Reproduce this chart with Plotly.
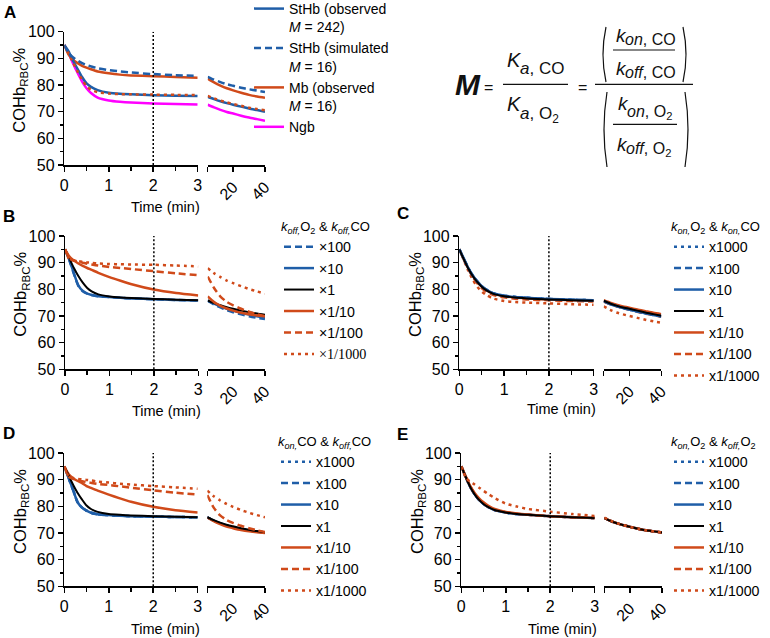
import plotly.graph_objects as go

W, H = 770, 638
FONT = "Arial, Liberation Sans, sans-serif"
BLUE = "#1f5ea8"
ORANGE = "#d04a1a"
MAGENTA = "#ff00ff"
BLACK = "#000000"

# ---------------- data ----------------
T1 = [0, 0.1, 0.2, 0.3, 0.4, 0.5, 0.6, 0.75, 1.0, 1.25, 1.5, 2.0, 2.5, 3.0]
T2 = [4, 8, 12, 16, 20, 25, 30, 35, 40]
REF_T = 2
Y_TICKS = [50, 60, 70, 80, 90, 100]
X1_TICKS = [0, 1, 2, 3]
X2_TICKS = [4, 20, 40]
X2_LABELS = ["", "20", "40"]

# Panel A
A_STHB_OBS_1 = [95, 92.5, 89, 86, 83, 80.6, 79.3, 78.1, 77.1, 76.7, 76.5, 76.2, 76.0, 75.9]
A_STHB_OBS_2 = [75.6, 74.7, 73.9, 73.2, 72.6, 71.9, 71.2, 70.6, 70.0]
A_STHB_SIM_1 = [95, 92, 90.3, 89.2, 88.2, 87.5, 87, 86.3, 85.6, 85.1, 84.7, 84.1, 83.7, 83.4]
A_STHB_SIM_2 = [83.1, 82.0, 81.1, 80.3, 79.7, 79.0, 78.4, 77.9, 77.4]
A_MB_OBS_1 = [95, 91.3, 89.4, 88.2, 87.2, 86.5, 85.9, 85.1, 84.4, 83.9, 83.6, 83.3, 83.0, 82.75]
A_MB_OBS_2 = [82.4, 81.0, 79.8, 78.8, 78.0, 77.1, 76.3, 75.7, 75.2]
A_NGB_1 = [95, 91.8, 88, 84.5, 81.3, 78.8, 77.0, 75.3, 74.2, 73.7, 73.4, 73.1, 72.9, 72.7]
A_NGB_2 = [72.6, 71.6, 70.7, 69.9, 69.3, 68.5, 67.8, 67.2, 66.6]
A_MB_SIM_1 = [95, 91.7, 88.3, 85, 82, 79.6, 78.2, 77.3, 76.8, 76.6, 76.5, 76.4, 76.3, 76.2]
A_MB_SIM_2 = [75.9, 75.0, 74.2, 73.5, 72.9, 72.2, 71.5, 71.0, 70.5]
A_NAMES = ["StHb (observed<br><i>M</i> = 242)", "StHb (simulated<br><i>M</i> = 16)",
           "Mb (observed<br><i>M</i> = 16)", "Ngb"]

# Panel B  (k_off,O2 & k_off,CO)
B_X100_1 = [95, 90.8, 85.8, 81.3, 79.3, 78.4, 77.9, 77.4, 77.1, 76.8, 76.6, 76.3, 76.0, 75.8]
B_X100_2 = [75.7, 74.3, 73.2, 72.2, 71.4, 70.6, 69.9, 69.3, 68.9]
B_X10_1 = [95, 91, 86, 81.5, 79.4, 78.4, 77.9, 77.4, 77.1, 76.8, 76.6, 76.3, 76.0, 75.8]
B_X10_2 = [75.8, 74.6, 73.6, 72.7, 72.0, 71.2, 70.5, 69.9, 69.4]
B_X1_1 = [95, 91.5, 88, 85, 82.5, 80.5, 79.2, 78.1, 77.3, 76.9, 76.7, 76.4, 76.1, 75.9]
B_X1_2 = [75.8, 74.8, 74.0, 73.3, 72.7, 72.0, 71.4, 70.9, 70.5]
B_X1_10_1 = [95, 92.3, 90.8, 89.7, 88.8, 88.0, 87.3, 86.2, 84.6, 83.2, 81.9, 79.9, 78.6, 77.7]
B_X1_10_2 = [77.3, 75.2, 73.8, 72.8, 72.0, 71.2, 70.6, 70.2, 69.9]
B_X1_100_1 = [95, 91.5, 90.8, 90.4, 90.0, 89.6, 89.3, 88.9, 88.4, 88.0, 87.6, 86.8, 86.0, 85.3]
B_X1_100_2 = [84.8, 80.5, 77.3, 75.3, 74.0, 72.7, 71.6, 70.7, 69.9]
B_X1_1000_1 = [95, 91.2, 90.8, 90.5, 90.3, 90.1, 89.9, 89.7, 89.5, 89.4, 89.3, 89.2, 88.9, 88.6]
B_X1_1000_2 = [87.9, 86.0, 84.6, 83.3, 82.3, 81.2, 80.1, 79.2, 78.4]
B_NAMES = ["×100", "×10", "×1", "×1/10", "×1/100",
           '<span style="font-family:Liberation Serif">×1/1000</span>']

# Panel C  (k_on,O2 & k_on,CO)
C_X1000_1 = [95, 91.5, 88.0, 85.2, 83.0, 81.2, 79.9, 78.6, 77.6, 77.1, 76.8, 76.4, 76.1, 75.9]
C_X1000_2 = [75.6, 74.5, 73.7, 73.0, 72.4, 71.7, 71.0, 70.4, 69.9]
C_X100_1 = [95, 91.5, 88.0, 85.2, 83.0, 81.2, 79.9, 78.6, 77.6, 77.1, 76.8, 76.4, 76.1, 75.9]
C_X100_2 = [75.6, 74.5, 73.7, 73.0, 72.4, 71.7, 71.0, 70.4, 69.8]
C_X10_1 = [95, 91.5, 88.0, 85.2, 83.0, 81.2, 79.9, 78.6, 77.6, 77.1, 76.8, 76.4, 76.1, 75.9]
C_X10_2 = [75.6, 74.5, 73.7, 73.0, 72.4, 71.7, 71.0, 70.4, 69.9]
C_X1_1 = [95, 91.3, 87.8, 85.0, 82.8, 81.0, 79.7, 78.4, 77.4, 76.9, 76.6, 76.2, 75.9, 75.7]
C_X1_2 = [75.7, 74.7, 73.9, 73.2, 72.7, 72.0, 71.3, 70.7, 70.1]
C_X1_10_1 = [95, 91.3, 87.8, 85.0, 82.8, 81.0, 79.7, 78.4, 77.4, 76.9, 76.6, 76.2, 75.9, 75.7]
C_X1_10_2 = [75.9, 75.0, 74.2, 73.6, 73.1, 72.4, 71.8, 71.2, 70.7]
C_X1_100_1 = [95, 91.2, 87.6, 84.6, 82.3, 80.5, 79.2, 77.9, 77.0, 76.5, 76.2, 75.9, 75.6, 75.4]
C_X1_100_2 = [75.4, 74.4, 73.6, 72.9, 72.4, 71.6, 70.9, 70.3, 69.7]
C_X1_1000_1 = [95, 91.0, 87.0, 83.6, 81.0, 79.2, 77.9, 76.6, 75.6, 75.2, 75.0, 74.7, 74.4, 74.2]
C_X1_1000_2 = [73.6, 72.3, 71.3, 70.6, 70.0, 69.3, 68.6, 68.0, 67.5]

# Panel D  (k_on,CO & k_off,CO)
D_X1000_1 = [95, 90.5, 86, 81.5, 79.5, 78.4, 77.6, 77.0, 76.7, 76.5, 76.3, 76.1, 76.0, 75.9]
D_X1000_2 = [75.9, 74.6, 73.6, 72.8, 72.1, 71.4, 70.9, 70.5, 70.2]
D_X100_1 = [95, 90.5, 86, 81.5, 79.5, 78.4, 77.6, 77.0, 76.7, 76.5, 76.3, 76.1, 76.0, 75.9]
D_X100_2 = [75.9, 74.6, 73.6, 72.8, 72.1, 71.4, 70.9, 70.5, 70.2]
D_X10_1 = [95, 90.5, 86, 81.5, 79.5, 78.4, 77.6, 77.0, 76.7, 76.5, 76.3, 76.1, 76.0, 75.9]
D_X10_2 = [75.9, 74.6, 73.6, 72.8, 72.1, 71.4, 70.9, 70.5, 70.2]
D_X1_1 = [95, 91.5, 88, 85, 82.5, 80.3, 79.0, 77.9, 77.1, 76.8, 76.6, 76.3, 76.1, 75.9]
D_X1_2 = [75.9, 74.8, 73.9, 73.1, 72.5, 71.8, 71.2, 70.7, 70.3]
D_X1_10_1 = [95, 92, 90.5, 89.5, 88.7, 87.6, 86.9, 85.9, 84.4, 83.0, 81.7, 79.8, 78.5, 77.7]
D_X1_10_2 = [75.8, 74.4, 73.3, 72.4, 71.8, 71.1, 70.6, 70.3, 70.0]
D_X1_100_1 = [95, 91, 90.3, 89.8, 89.4, 89.1, 88.8, 88.4, 88.0, 87.5, 87.0, 86.0, 85.1, 84.4]
D_X1_100_2 = [84.2, 79.5, 76.6, 74.9, 73.8, 72.7, 71.8, 71.0, 70.4]
D_X1_1000_1 = [95, 91.2, 90.6, 90.3, 90.1, 89.9, 89.7, 89.3, 88.9, 88.5, 88.2, 87.6, 87.1, 86.6]
D_X1_1000_2 = [85.9, 83.8, 82.2, 80.9, 79.8, 78.6, 77.6, 76.7, 75.9]

# Panel E  (k_on,O2 & k_off,O2)
E_X1000_1 = [95, 91.0, 87.3, 84.5, 82.4, 80.9, 79.8, 78.6, 77.7, 77.1, 76.8, 76.3, 75.9, 75.6]
E_X1000_2 = [75.6, 74.5, 73.6, 72.9, 72.3, 71.6, 71.0, 70.6, 70.2]
E_X100_1 = [95, 91.0, 87.3, 84.5, 82.4, 80.9, 79.8, 78.6, 77.7, 77.1, 76.8, 76.3, 75.9, 75.6]
E_X100_2 = [75.6, 74.5, 73.6, 72.9, 72.3, 71.6, 71.0, 70.6, 70.2]
E_X10_1 = [95, 91.0, 87.3, 84.5, 82.4, 80.9, 79.8, 78.6, 77.7, 77.1, 76.8, 76.3, 75.9, 75.6]
E_X10_2 = [75.6, 74.5, 73.6, 72.9, 72.3, 71.6, 71.0, 70.6, 70.2]
E_X1_1 = [95, 91.0, 87.3, 84.5, 82.4, 80.9, 79.8, 78.6, 77.7, 77.1, 76.8, 76.3, 75.9, 75.6]
E_X1_2 = [75.6, 74.5, 73.6, 72.9, 72.3, 71.6, 71.0, 70.6, 70.2]
E_X1_10_1 = [95, 91.2, 87.7, 85.0, 83.0, 81.5, 80.3, 79.0, 77.9, 77.3, 76.9, 76.3, 75.9, 75.6]
E_X1_10_2 = [75.6, 74.5, 73.6, 72.9, 72.3, 71.6, 71.0, 70.6, 70.2]
E_X1_100_1 = [95, 91.1, 87.5, 84.7, 82.6, 81.1, 79.9, 78.7, 77.8, 77.2, 76.8, 76.3, 75.9, 75.6]
E_X1_100_2 = [75.6, 74.5, 73.6, 72.9, 72.3, 71.6, 71.0, 70.6, 70.2]
E_X1_1000_1 = [95, 90.8, 89.2, 88.2, 87.0, 85.8, 84.7, 83.1, 81.0, 79.9, 79.0, 78.0, 77.1, 76.4]
E_X1_1000_2 = [75.8, 74.6, 73.7, 72.9, 72.3, 71.6, 71.0, 70.6, 70.2]

X_NAMES = ["x1000", "x100", "x10", "x1", "x1/10", "x1/100", "x1/1000"]

# ---------------- styling ----------------
SOLID, DASH, DOT = "solid", "7px,4px", "3px,4px"
LW = 2.5

fig = go.Figure()


def px_x(p):
    return p / W


def px_y(p):
    return 1 - p / H


# panel geometry in pixels: y-axis x, end of segment 1, segment 2 start/end, top, bottom,
# panel-letter position and x-title centre
PANELS = [
    dict(key="A", x0=64.3, x3=197.7, s2a=207.7, s2b=265.0, yt=31.7, yb=165.0, lx=2, ly=1, tt=206.5),
    dict(key="B", x0=65.0, x3=198.3, s2a=207.7, s2b=265.0, yt=236.0, yb=369.3, lx=1, ly=205, tt=411),
    dict(key="C", x0=459.3, x3=593.7, s2a=603.7, s2b=661.3, yt=236.0, yb=369.3, lx=395, ly=202, tt=409),
    dict(key="D", x0=64.3, x3=197.7, s2a=207.3, s2b=265.0, yt=453.0, yb=586.3, lx=1, ly=422, tt=629),
    dict(key="E", x0=461.3, x3=594.7, s2a=604.3, s2b=662.0, yt=453.0, yb=586.3, lx=395, ly=423, tt=629),
]

layout = dict(width=W, height=H, margin=dict(l=0, r=0, t=0, b=0, autoexpand=False),
              paper_bgcolor="white", plot_bgcolor="rgba(0,0,0,0)",
              font=dict(family=FONT, size=15, color="black"),
              shapes=[], annotations=[])

tickfont = dict(family=FONT, size=16, color="black")
for i, p in enumerate(PANELS):
    n1, n2 = 2 * i + 1, 2 * i + 2
    k1 = "" if n1 == 1 else str(n1)
    k2 = str(n2)
    ydom = [px_y(p["yb"]), px_y(p["yt"])]
    layout["xaxis" + k1] = dict(
        domain=[px_x(p["x0"]), px_x(p["x3"])], range=[0, 3], anchor="y" + k1,
        tickvals=X1_TICKS, ticks="outside", ticklen=5, tickwidth=1.5, tickcolor="black",
        showline=True, linecolor="black", linewidth=1.5, showgrid=False, zeroline=False,
        tickfont=tickfont, fixedrange=True,
        minor=dict(dtick=0.5, tick0=0, ticks="outside", ticklen=4, tickwidth=1.5,
                   tickcolor="black", showgrid=False))
    layout["yaxis" + k1] = dict(
        domain=ydom, range=[50, 100], anchor="x" + k1,
        tickvals=Y_TICKS, ticks="outside", ticklen=5, tickwidth=1.5, tickcolor="black",
        showline=True, linecolor="black", linewidth=1.5, showgrid=False, zeroline=False,
        tickfont=tickfont, fixedrange=True,
        minor=dict(dtick=5, tick0=50, ticks="outside", ticklen=3, tickwidth=1.5,
                   tickcolor="black", showgrid=False))
    layout["xaxis" + k2] = dict(
        domain=[px_x(p["s2a"]), px_x(p["s2b"])], range=[4, 40], anchor="y" + k2,
        tickvals=X2_TICKS, ticktext=X2_LABELS, tickangle=-45, ticks="outside", ticklen=5,
        tickwidth=1.5, tickcolor="black", showline=True, linecolor="black", linewidth=1.5,
        showgrid=False, zeroline=False, tickfont=tickfont, fixedrange=True)
    layout["yaxis" + k2] = dict(domain=ydom, range=[50, 100], anchor="x" + k2,
                                visible=False, fixedrange=True)
    # dotted reference line at t = 2 min
    layout["shapes"].append(dict(type="line", xref="x" + k1, yref="y" + k1,
                                 x0=REF_T, x1=REF_T, y0=50, y1=100,
                                 line=dict(color="black", width=1.5, dash="2px,2px")))
    # panel letter
    layout["annotations"].append(dict(text="<b>%s</b>" % p["key"], xref="paper", yref="paper",
                                      x=px_x(p["lx"]), y=px_y(p["ly"]),
                                      xanchor="left", yanchor="top", showarrow=False,
                                      font=dict(family=FONT, size=17, color="black")))
    # y title
    layout["annotations"].append(dict(text="COHb<sub>RBC</sub>%", textangle=-90,
                                      xref="paper", yref="paper", x=px_x(p["x0"] - 44),
                                      y=px_y((p["yt"] + p["yb"]) / 2 - 8),
                                      xanchor="center", yanchor="middle", showarrow=False,
                                      font=dict(family=FONT, size=16.5, color="black")))
    # x title
    layout["annotations"].append(dict(text="Time (min)", xref="paper", yref="paper",
                                      x=px_x((p["x0"] + p["s2b"]) / 2 + 1), y=px_y(p["tt"]),
                                      xanchor="center", yanchor="middle", showarrow=False,
                                      font=dict(family=FONT, size=14.5, color="black")))

fig.update_layout(**layout)


def add(panel_idx, name, y1, y2, color, dash, width, rank, legend, show=True):
    n1, n2 = 2 * panel_idx + 1, 2 * panel_idx + 2
    k1 = "" if n1 == 1 else str(n1)
    grp = "p%d_%d" % (panel_idx, rank)
    fig.add_trace(go.Scatter(x=T1, y=y1, mode="lines", name=name,
                             line=dict(color=color, dash=dash, width=width, shape="spline", smoothing=0.6),
                             xaxis="x" + k1, yaxis="y" + k1, legend=legend,
                             legendrank=rank, showlegend=show, legendgroup=grp))
    fig.add_trace(go.Scatter(x=T2, y=y2, mode="lines", name=name,
                             line=dict(color=color, dash=dash, width=width, shape="spline", smoothing=0.6),
                             xaxis="x" + str(n2), yaxis="y" + str(n2), legend=legend,
                             legendrank=rank, showlegend=False, legendgroup=grp))


# Panel A
add(0, A_NAMES[3], A_NGB_1, A_NGB_2, MAGENTA, SOLID, LW, 4, "legend")
add(0, A_NAMES[2], A_MB_OBS_1, A_MB_OBS_2, ORANGE, SOLID, LW, 3, "legend")
add(0, A_NAMES[0], A_STHB_OBS_1, A_STHB_OBS_2, BLUE, SOLID, LW, 1, "legend")
add(0, "Mb (simulated M = 242)", A_MB_SIM_1, A_MB_SIM_2, ORANGE, DOT, LW, 5, "legend", show=False)
add(0, A_NAMES[1], A_STHB_SIM_1, A_STHB_SIM_2, BLUE, DASH, LW, 2, "legend")

# Panel B
add(1, B_NAMES[1], B_X10_1, B_X10_2, BLUE, SOLID, LW, 2, "legend2")
add(1, B_NAMES[0], B_X100_1, B_X100_2, BLUE, DASH, LW, 1, "legend2")
add(1, B_NAMES[2], B_X1_1, B_X1_2, BLACK, SOLID, 2, 3, "legend2")
add(1, B_NAMES[3], B_X1_10_1, B_X1_10_2, ORANGE, SOLID, LW, 4, "legend2")
add(1, B_NAMES[4], B_X1_100_1, B_X1_100_2, ORANGE, DASH, LW, 5, "legend2")
add(1, B_NAMES[5], B_X1_1000_1, B_X1_1000_2, ORANGE, DOT, LW, 6, "legend2")

# Panel C
add(2, X_NAMES[6], C_X1_1000_1, C_X1_1000_2, ORANGE, DOT, LW, 7, "legend3")
add(2, X_NAMES[5], C_X1_100_1, C_X1_100_2, ORANGE, DASH, LW, 6, "legend3")
add(2, X_NAMES[4], C_X1_10_1, C_X1_10_2, ORANGE, SOLID, LW, 5, "legend3")
add(2, X_NAMES[0], C_X1000_1, C_X1000_2, BLUE, DOT, LW, 1, "legend3")
add(2, X_NAMES[1], C_X100_1, C_X100_2, BLUE, DASH, LW, 2, "legend3")
add(2, X_NAMES[2], C_X10_1, C_X10_2, BLUE, SOLID, LW, 3, "legend3")
add(2, X_NAMES[3], C_X1_1, C_X1_2, BLACK, SOLID, 2, 4, "legend3")

# Panel D
add(3, X_NAMES[0], D_X1000_1, D_X1000_2, BLUE, DOT, LW, 1, "legend4")
add(3, X_NAMES[1], D_X100_1, D_X100_2, BLUE, DASH, LW, 2, "legend4")
add(3, X_NAMES[2], D_X10_1, D_X10_2, BLUE, SOLID, LW, 3, "legend4")
add(3, X_NAMES[4], D_X1_10_1, D_X1_10_2, ORANGE, SOLID, LW, 5, "legend4")
add(3, X_NAMES[3], D_X1_1, D_X1_2, BLACK, SOLID, 2, 4, "legend4")
add(3, X_NAMES[5], D_X1_100_1, D_X1_100_2, ORANGE, DASH, LW, 6, "legend4")
add(3, X_NAMES[6], D_X1_1000_1, D_X1_1000_2, ORANGE, DOT, LW, 7, "legend4")

# Panel E
add(4, X_NAMES[0], E_X1000_1, E_X1000_2, BLUE, DOT, LW, 1, "legend5")
add(4, X_NAMES[1], E_X100_1, E_X100_2, BLUE, DASH, LW, 2, "legend5")
add(4, X_NAMES[2], E_X10_1, E_X10_2, BLUE, SOLID, LW, 3, "legend5")
add(4, X_NAMES[4], E_X1_10_1, E_X1_10_2, ORANGE, SOLID, LW, 5, "legend5")
add(4, X_NAMES[5], E_X1_100_1, E_X1_100_2, ORANGE, DASH, LW, 6, "legend5")
add(4, X_NAMES[3], E_X1_1, E_X1_2, BLACK, SOLID, 2, 4, "legend5")
add(4, X_NAMES[6], E_X1_1000_1, E_X1_1000_2, ORANGE, DOT, LW, 7, "legend5")


def legend_cfg(xpx, ypx, title=None, size=14.2):
    d = dict(x=px_x(xpx), y=px_y(ypx), xanchor="left", yanchor="top",
             bgcolor="rgba(0,0,0,0)", borderwidth=0, valign="top", tracegroupgap=0,
             font=dict(family=FONT, size=size, color="black"), traceorder="normal")
    if title:
        d["title"] = dict(text=title, side="top", font=dict(family=FONT, size=13, color="black"))
    return d


fig.update_layout(
    legend=legend_cfg(249, -7, size=14),
    legend2=legend_cfg(279, 214, "<i>k<sub>off,</sub></i>O<sub>2</sub> & <i>k<sub>off,</sub></i>CO"),
    legend3=legend_cfg(669, 214, "<i>k<sub>on,</sub></i>O<sub>2</sub> & <i>k<sub>on,</sub></i>CO"),
    legend4=legend_cfg(276, 429, "<i>k<sub>on,</sub></i>CO & <i>k<sub>off,</sub></i>CO"),
    legend5=legend_cfg(669, 429, "<i>k<sub>on,</sub></i>O<sub>2</sub> & <i>k<sub>off,</sub></i>O<sub>2</sub>"),
)

# ---------------- equation (top right) ----------------
EQ = "#111111"


def eq_text(txt, xpx, ypx, size, anchor="left"):
    fig.add_annotation(text=txt, xref="paper", yref="paper", x=px_x(xpx), y=px_y(ypx),
                       xanchor=anchor, yanchor="middle", showarrow=False,
                       font=dict(family=FONT, size=size, color=EQ))


def eq_line(xa, xb, ypx):
    fig.add_shape(type="line", xref="paper", yref="paper", x0=px_x(xa), x1=px_x(xb),
                  y0=px_y(ypx), y1=px_y(ypx), line=dict(color=EQ, width=1.2))


def paren(xpx, ytop, ybot, left=True):
    bulge = -6 if left else 6
    xm = xpx + bulge
    path = "M %f,%f Q %f,%f %f,%f" % (px_x(xpx), px_y(ytop), px_x(xm), px_y((ytop + ybot) / 2),
                                     px_x(xpx), px_y(ybot))
    fig.add_shape(type="path", xref="paper", yref="paper", path=path,
                  line=dict(color=EQ, width=1.2))


eq_text("<b><i>M</i></b>", 453, 84, 30)
eq_text("=", 488, 87, 16, "center")
eq_text("<i>K</i>", 505, 60, 20)
eq_text("<i>a</i>, CO", 518, 69, 17)
eq_line(503, 568, 84.3)
eq_text("<i>K</i>", 505, 104, 20)
eq_text("<i>a</i>, O<sub>2</sub>", 518, 115, 17)
eq_text("=", 582, 87, 16, "center")
eq_line(595, 693, 84.3)
# upper bracket
paren(606, 27, 82, True)
paren(683, 27, 82, False)
eq_text("<i>k</i>", 614, 35, 19)
eq_text("<i>on</i>, CO", 623, 40, 16)
eq_line(613, 675, 50)
eq_text("<i>k</i>", 614, 69, 19)
eq_text("<i>off</i>, CO", 623, 73, 16)
# lower bracket
paren(607, 92, 167, True)
paren(685, 92, 167, False)
eq_text("<i>k</i>", 616, 104, 19)
eq_text("<i>on</i>, O<sub>2</sub>", 625, 112, 16)
eq_line(613, 677, 124.3)
eq_text("<i>k</i>", 615, 144, 19)
eq_text("<i>off</i>, O<sub>2</sub>", 624, 149, 16)

fig.write_html("out.html", config={"displayModeBar": False, "staticPlot": True},
               post_script="document.body.style.margin='0';document.body.style.overflow='hidden';")
